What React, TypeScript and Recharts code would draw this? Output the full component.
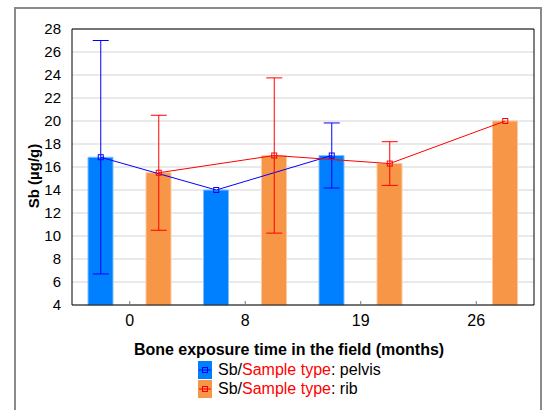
import React from 'react';
import { ComposedChart, Bar, Line, XAxis, YAxis, CartesianGrid, ErrorBar, Label } from 'recharts';

// months of field exposure and the mean Sb per sample type, with the error bar half-lengths
const months = ['0', '8', '19', '26'];
const pelvisMean: (number | null)[] = [16.85, 14.0, 17.0, null];
const pelvisErr: (number | null)[] = [10.15, 0, 2.83, null];
const ribMean: (number | null)[] = [15.5, 17.0, 16.3, 20.0];
const ribErr: (number | null)[] = [5.0, 6.75, 1.9, 0];
const yTicks = [4, 6, 8, 10, 12, 14, 16, 18, 20, 22, 24, 26, 28];

const W = 549;
const H = 410;
const FONT = '"Liberation Sans", Arial, sans-serif';
const BLUE_BAR = '#0080ff';
const ORANGE_BAR = '#f79646';
const BLUE = '#0000ff';
const RED = '#ff0000';

const margin = { top: 28, right: 14, bottom: 45, left: 14 };
const Y_AXIS_W = 58;
const X_AXIS_H = 60;
const BAR_SIZE = 25;
const BAR_GAP = 33;
const FRAME = { left: 14, top: 7, right: 542 };
const TEXT_CENTER = 289;

const plotW = W - margin.left - Y_AXIS_W - margin.right - 1;
const band = plotW / months.length;
// markers sit on the bar centres, half a bar+gap away from the category centre
const shift = (BAR_SIZE + BAR_GAP) / 2 / band;

const barData = months.map((m, i) => ({ month: m, pelvis: pelvisMean[i], rib: ribMean[i] }));

const toPoints = (means: (number | null)[], errs: (number | null)[], dir: number) =>
  means
    .map((v, i) => ({ x: i + 0.5 + dir * shift, y: v, err: errs[i] }))
    .filter(p => p.y !== null);

const pelvisPts = toPoints(pelvisMean, pelvisErr, -1);
const ribPts = toPoints(ribMean, ribErr, 1);

const squareDot = (color: string) => (p: any) => {
  if (p.cx == null || p.cy == null) return <g key={p.index} />;
  return (
    <rect key={p.index} x={p.cx - 2.5} y={p.cy - 2.5} width={5} height={5} fill="none" stroke={color} strokeWidth={1} />
  );
};

const BottomTick = (props: any) => {
  const { x, y, payload } = props;
  return (
    <g>
      <line x1={x} x2={x} y1={y} y2={y - 4} stroke="#777" />
      <text x={x} y={y + 21} textAnchor="middle" fontSize={16} fill="#000" fontFamily={FONT}>
        {payload.value}
      </text>
    </g>
  );
};

const LegendIcon = ({ fill, color }: { fill: string; color: string }) => (
  <svg width={14} height={18} style={{ display: 'block' }}>
    <rect x={0} y={0} width={14} height={18} fill={fill} />
    <line x1={1} x2={13} y1={9} y2={9} stroke={color} />
    <rect x={4.5} y={6.5} width={5} height={5} fill="none" stroke={color} />
  </svg>
);

const legendItems = [
  { fill: BLUE_BAR, color: BLUE, name: 'pelvis' },
  { fill: ORANGE_BAR, color: RED, name: 'rib' },
];

const App: React.FC = () => {
  return (
    <div style={{ position: 'absolute', left: 0, top: 0, width: W, height: H, overflow: 'hidden', background: '#fff', fontFamily: FONT }}>
      <div
        style={{
          position: 'absolute',
          left: FRAME.left,
          top: FRAME.top,
          width: FRAME.right - FRAME.left,
          height: 460,
          boxSizing: 'border-box',
          border: '2px solid #8a8a8a',
        }}
      />
      <div style={{ position: 'absolute', left: 0, top: 0 }}>
        <ComposedChart width={W} height={H} data={barData} margin={margin} barSize={BAR_SIZE} barGap={BAR_GAP}>
          <CartesianGrid xAxisId="cat" vertical={false} stroke="#d4d4d4" />
          <XAxis
            xAxisId="cat"
            dataKey="month"
            height={X_AXIS_H}
            tickLine={false}
            tickSize={0}
            tickMargin={0}
            axisLine={{ stroke: '#000' }}
            tick={<BottomTick />}
          >
            <Label
              content={({ viewBox }: any) => (
                <text
                  x={TEXT_CENTER}
                  y={viewBox.y + 50}
                  textAnchor="middle"
                  fontSize={16}
                  fontWeight="bold"
                  fill="#000"
                  fontFamily={FONT}
                >
                  Bone exposure time in the field (months)
                </text>
              )}
            />
          </XAxis>
          <XAxis
            xAxisId="top"
            dataKey="month"
            orientation="top"
            height={1}
            tick={false}
            tickSize={-4}
            tickLine={{ stroke: '#777' }}
            axisLine={{ stroke: '#000' }}
          />
          <XAxis xAxisId="num" dataKey="x" type="number" domain={[0, months.length]} hide />
          <YAxis
            domain={[4, 28]}
            ticks={yTicks}
            interval={0}
            width={Y_AXIS_W}
            tickLine={false}
            tickMargin={5}
            axisLine={{ stroke: '#000' }}
            tick={{ fontSize: 15, fill: '#000', fontFamily: FONT }}
          >
            <Label
              content={({ viewBox }: any) => {
                const cx = 33;
                const cy = viewBox.y + viewBox.height / 2 + 9;
                return (
                  <text
                    x={cx}
                    y={cy}
                    transform={`rotate(-90 ${cx} ${cy})`}
                    textAnchor="middle"
                    dominantBaseline="central"
                    fontSize={15}
                    fontWeight="bold"
                    fill="#000"
                    fontFamily={FONT}
                  >
                    Sb (µg/g)
                  </text>
                );
              }}
            />
          </YAxis>
          <YAxis
            yAxisId="r"
            orientation="right"
            width={1}
            domain={[4, 28]}
            ticks={yTicks}
            interval={0}
            tick={false}
            tickSize={-5}
            tickLine={{ stroke: '#333' }}
            axisLine={{ stroke: '#000' }}
          />
          <Bar xAxisId="cat" dataKey="pelvis" fill={BLUE_BAR} stroke="#7fbfff" strokeWidth={1} isAnimationActive={false} />
          <Bar xAxisId="cat" dataKey="rib" fill={ORANGE_BAR} stroke="#fbcaa2" strokeWidth={1} isAnimationActive={false} />
          {/* invisible series so the top and right frame axes get a scale */}
          <Line
            xAxisId="top"
            yAxisId="r"
            dataKey="rib"
            stroke="none"
            dot={false}
            activeDot={false}
            isAnimationActive={false}
          />
          <Line
            xAxisId="num"
            data={pelvisPts}
            dataKey="y"
            stroke={BLUE}
            strokeWidth={1}
            dot={squareDot(BLUE)}
            activeDot={false}
            isAnimationActive={false}
          >
            <ErrorBar dataKey="err" direction="y" width={8} stroke={BLUE} strokeWidth={1} />
          </Line>
          <Line
            xAxisId="num"
            data={ribPts}
            dataKey="y"
            stroke={RED}
            strokeWidth={1}
            dot={squareDot(RED)}
            activeDot={false}
            isAnimationActive={false}
          >
            <ErrorBar dataKey="err" direction="y" width={8} stroke={RED} strokeWidth={1} />
          </Line>
        </ComposedChart>
      </div>
      <div style={{ position: 'absolute', left: 198, top: 360, fontSize: 16, color: '#000' }}>
        {legendItems.map(item => (
          <div key={item.name} style={{ display: 'flex', alignItems: 'center', height: 19 }}>
            <LegendIcon fill={item.fill} color={item.color} />
            <span style={{ marginLeft: 6, whiteSpace: 'nowrap', lineHeight: '19px' }}>
              Sb/<span style={{ color: RED }}>Sample type</span>: {item.name}
            </span>
          </div>
        ))}
      </div>
    </div>
  );
};

export default App;
